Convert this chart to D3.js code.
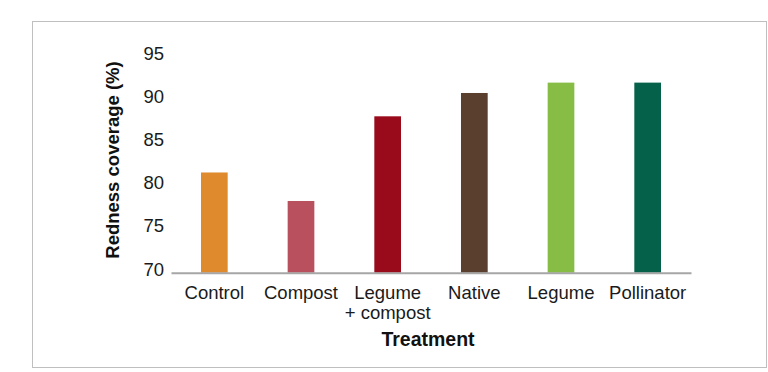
<!DOCTYPE html>
<html>
<head>
<meta charset="utf-8">
<script src="https://cdn.jsdelivr.net/npm/d3@7"></script>
<style>
  body { margin: 0; background: #fff; }
  svg { display: block; font-family: "Liberation Sans", Arial, sans-serif; }
  .axis text { fill: #1a1a1a; }
</style>
</head>
<body>
<svg id="chart" width="768" height="372"></svg>
<script>
var categories = ["Control", "Compost", "Legume\n+ compost", "Native", "Legume", "Pollinator"];
var values = [81.6, 78.3, 88.1, 90.8, 92.0, 92.0];
var colors = ["#df8a2d", "#b9505d", "#990a1b", "#5a3e2e", "#87bd45", "#05614a"];
var yTicks = [70, 75, 80, 85, 90, 95];

var svg = d3.select("#chart");

// outer frame
svg.append("rect")
    .attr("x", 32.5).attr("y", 21.5)
    .attr("width", 734).attr("height", 346)
    .attr("fill", "none")
    .attr("stroke", "#bfbfbf");

var x = d3.scaleBand()
    .domain(d3.range(categories.length))
    .range([171, 691])
    .paddingInner(0.692)
    .paddingOuter(0.346);

var y = d3.scaleLinear()
    .domain([70, 95])
    .range([272.7, 56.7]);

svg.append("g").selectAll("rect")
    .data(values)
  .enter().append("rect")
    .attr("x", function(d, i) { return x(i); })
    .attr("y", function(d) { return y(d); })
    .attr("width", x.bandwidth())
    .attr("height", function(d) { return y(70) - y(d); })
    .attr("fill", function(d, i) { return colors[i]; });

// y axis: labels only
var yAxis = svg.append("g")
    .attr("class", "axis")
    .attr("transform", "translate(172,0)")
    .call(d3.axisLeft(y).tickValues(yTicks).tickSize(0).tickPadding(8));
yAxis.select(".domain").remove();
yAxis.selectAll("text")
    .attr("y", -3.5)
    .style("font-size", "18.5px");

// x axis
var xAxis = svg.append("g")
    .attr("class", "axis")
    .attr("transform", "translate(0," + y(70) + ")")
    .call(d3.axisBottom(x).tickSize(0).tickSizeOuter(0)
      .tickFormat(function(i) { return categories[i]; }));
xAxis.select(".domain")
    .attr("stroke", "#a6a6a6")
    .attr("stroke-width", 2);
xAxis.selectAll("text").each(function() {
  var t = d3.select(this),
      lines = t.text().split("\n");
  t.text(null).attr("y", 26.5).attr("dy", 0).style("font-size", "18.5px");
  lines.forEach(function(line, k) {
    t.append("tspan").attr("x", 0).attr("dy", k ? "20" : 0).text(line);
  });
});

// axis titles
svg.append("text")
    .attr("x", 428)
    .attr("y", 346)
    .attr("text-anchor", "middle")
    .style("font-size", "19.5px")
    .style("font-weight", "bold")
    .attr("fill", "#111")
    .text("Treatment");

svg.append("text")
    .attr("transform", "translate(119,160) rotate(-90)")
    .attr("text-anchor", "middle")
    .style("font-size", "18.5px")
    .style("font-weight", "bold")
    .attr("fill", "#111")
    .text("Redness coverage (%)");
</script>
</body>
</html>
